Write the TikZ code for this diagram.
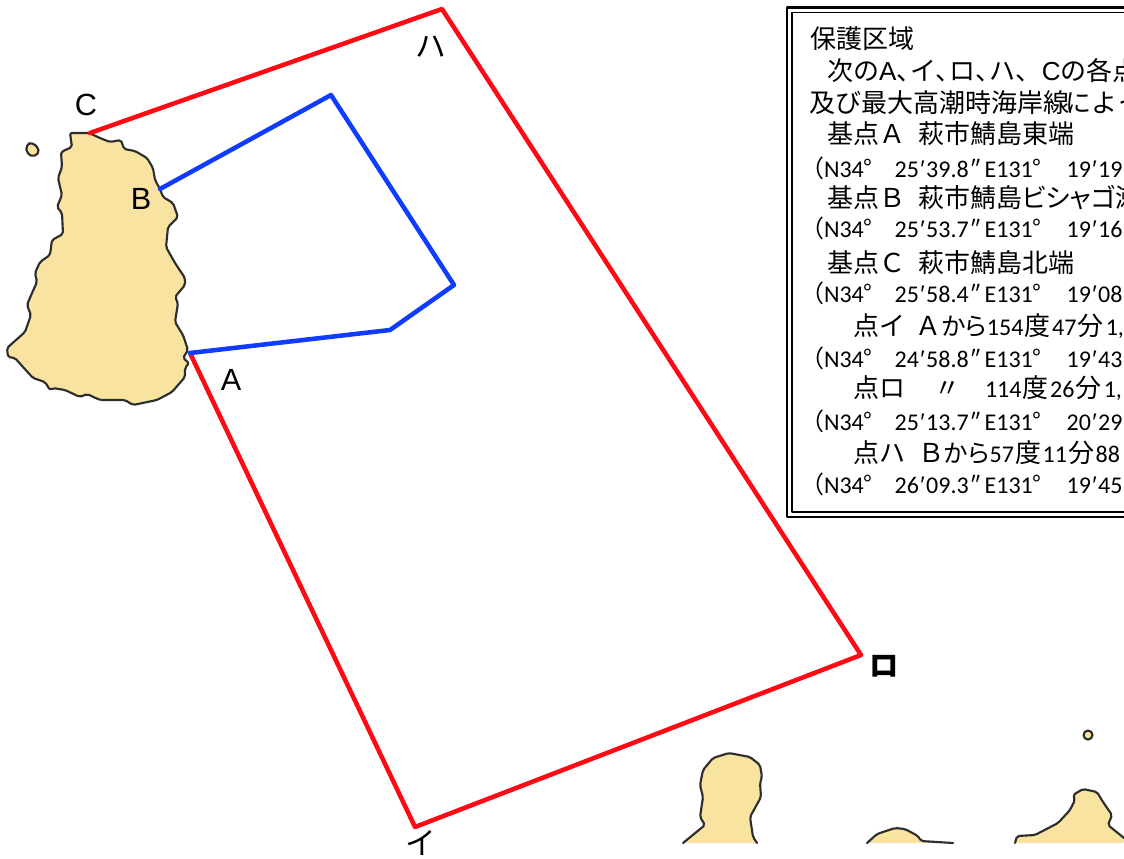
\documentclass[tikz,border=0pt]{standalone}
\usepackage{fontspec}
\setmainfont{Carlito}
\newfontfamily\jp{Noto Sans CJK JP}
\newfontfamily\jpp[RawFeature=+palt]{Noto Sans CJK JP}
\newfontfamily\arial{Liberation Sans}
\definecolor{islandfill}{RGB}{249,227,160}
\definecolor{islandline}{RGB}{45,45,45}
\definecolor{zonered}{RGB}{255,10,20}
\definecolor{zoneblue}{RGB}{15,60,255}
% digits inside the japanese rows
\newcommand{\dg}[1]{{\fontsize{18pt}{18pt}\selectfont\rmfamily #1}}
% comma closed up on the following character
\newcommand{\cm}{、\hspace{-9pt}}
\newcommand{\prm}{\hspace{1pt}{\arial ′}\hspace{1pt}}
\newcommand{\dprm}{\hspace{1.5pt}″}
% kana set a little smaller
\newcommand{\kara}{{\fontsize{18.5pt}{18.5pt}\selectfont\jpp から}}
% one coordinate row: lat degrees, lat rest, lon rest
\newcommand{\georow}[3]{\makebox[12pt][r]{\jp （}\makebox[53pt][l]{N#1{\jp °}}\makebox[67.5pt][l]{#2}\makebox[61.5pt][l]{E131{\jp °}}#3}
\tikzset{
  island/.style={fill=islandfill, draw=none, rounded corners=1.5pt},
  coast/.style={draw=islandline, line width=1.6pt, line join=round, rounded corners=1.5pt},
  zone/.style={line width=3.4pt, line join=round, line cap=round},
  txt/.style={anchor=base west, inner sep=0pt, outer sep=0pt, font=\fontsize{19.5pt}{19.5pt}\selectfont\jp},
  geo/.style={anchor=base west, inner sep=0pt, outer sep=0pt, font=\fontsize{18pt}{18pt}\selectfont},
  mapl/.style={inner sep=0pt, font=\fontsize{23pt}{23pt}\selectfont\arial},
  mapk/.style={inner sep=0pt, font=\fontsize{23pt}{23pt}\selectfont\jp}
}
\begin{document}
\begin{tikzpicture}[x=0.75pt, y=-0.75pt, line join = round, line cap = round]
\useasboundingbox (0,0) rectangle (1124,858);
\begin{scope}
\clip (0,0) rectangle (1124,858);

% base points and zone corners
\coordinate (A) at (190,353);
\coordinate (B) at (160,189);
\coordinate (C) at (90,133);
\coordinate (I) at (415,827);
\coordinate (Ro) at (861,655);
\coordinate (Ha) at (442,9);
\coordinate (P) at (331,95);
\coordinate (Q) at (454,285);
\coordinate (R) at (390,330);

% main island
\draw[island, coast] (89,133)--(100,138)--(110,142)--(121,140)--(124,149)--(135,151)--(147,158)--(153,168)--(155,180)--(160,189)--(163,197)--(173,203)--(178,217)--(168,227)--(166,247)--(175,263)--(185,278)--(185,285)--(175,297)--(178,303)--(175,322)--(183,335)--(188,350)--(183,358)--(189,363)--(185,368)--(185,377)--(172,392)--(157,400)--(133,405)--(125,400)--(100,400)--(87,394)--(80,397)--(65,390)--(53,388)--(50,390)--(45,382)--(33,378)--(23,367)--(15,358)--(8,357)--(7,348)--(25,332)--(31,315)--(27,305)--(32,293)--(37,282)--(35,273)--(40,262)--(50,255)--(52,240)--(63,234)--(62,213)--(57,207)--(62,195)--(58,178)--(62,167)--(61,152)--(72,147)--(70,133)--cycle;
\draw[island, coast, rounded corners=3pt] (26,145)--(32,142)--(40,150)--(35,157)--(27,154)--cycle;

% islands along the bottom, open at the cut
\fill[island] (683,843)--(705,825)--(700,817)--(703,797)--(700,785)--(703,770)--(713,758)--(729,753)--(750,757)--(760,765)--(762,777)--(760,783)--(761,797)--(750,817)--(753,837)--(757,843)--cycle;
\draw[coast] (683,843)--(705,825)--(700,817)--(703,797)--(700,785)--(703,770)--(713,758)--(729,753)--(750,757)--(760,765)--(762,777)--(760,783)--(761,797)--(750,817)--(753,837)--(757,843);
\fill[island] (867,843)--(877,834)--(895,828)--(905,829)--(918,836)--(921,841)--(953,843)--cycle;
\draw[coast] (867,843)--(877,834)--(895,828)--(905,829)--(918,836)--(921,841)--(953,843);
\fill[island] (1015,843)--(1017,836)--(1035,835)--(1058,823)--(1070,810)--(1075,800)--(1073,795)--(1083,789)--(1097,792)--(1103,802)--(1112,815)--(1108,825)--(1124,838)--(1124,843)--cycle;
\draw[coast] (1015,843)--(1017,836)--(1035,835)--(1058,823)--(1070,810)--(1075,800)--(1073,795)--(1083,789)--(1097,792)--(1103,802)--(1112,815)--(1108,825)--(1124,838);
\draw[island, coast] (1088,735) circle (4.5);

% zone outlines
\draw[zone, color=zonered] (C)--(Ha)--(Ro)--(I)--(A);
\draw[zone, color=zoneblue] (B)--(P)--(Q)--(R)--(A);

% map labels
\node[mapl] (labelC) at (86,105) {C};
\node[mapl] (labelB) at (141,199) {B};
\node[mapl] (labelA) at (231,380) {A};
\node[mapk] (labelHa) at (431,47) {ハ};
\node[mapk, font=\fontsize{22pt}{22pt}\selectfont\jp\bfseries] (labelRo) at (884,666) {ロ};
\node[mapk] (labelI) at (421,843) {イ};

% double frame, runs off the right side
\draw[line width=2.2pt] (787,7.5) rectangle (1140,517);
\draw[line width=1.3pt] (792,12.5) rectangle (1135,512);

% box text
\node[txt] (t1) at (810,48) {保護区域};
\node[txt] (t2) at (827,80) {次の{\arial A}\cm イ\cm ロ\cm ハ\cm\hspace{9pt}{\arial C}の各点};
\node[txt] (t3) at (809,112) {及び最大高潮時海岸線\hspace{-3pt}によっ};
\node[txt] (t4) at (827,143) {基点Ａ\hspace{10pt}萩市鯖島東端};
\node[geo] (t5) at (808,177) {\georow{34}{25\prm 39.8\dprm}{19\prm 19}};
\node[txt] (t6) at (827,207) {基点Ｂ\hspace{10pt}萩市鯖島{\jpp ビシャゴ}瀬};
\node[geo] (t7) at (808,237) {\georow{34}{25\prm 53.7\dprm}{19\prm 16}};
\node[txt] (t8) at (827,272) {基点Ｃ\hspace{10pt}萩市鯖島北端};
\node[geo] (t9) at (808,302) {\georow{34}{25\prm 58.4\dprm}{19\prm 08}};
\node[txt] (t10) at (853,335) {点イ\hspace{8pt}Ａ\kara\dg{154}\hspace{1pt}度\hspace{1pt}\dg{47}\hspace{1pt}分\hspace{1.5pt}\dg{1,}};
\node[geo] (t11) at (808,367) {\georow{34}{24\prm 58.8\dprm}{19\prm 43}};
\node[txt] (t12) at (853,397) {点ロ\hspace{22pt}〃\hspace{18.5pt}\dg{114}\hspace{1pt}度\hspace{1pt}\dg{26}\hspace{1pt}分\hspace{1.5pt}\dg{1,}};
\node[geo] (t13) at (808,430) {\georow{34}{25\prm 13.7\dprm}{20\prm 29}};
\node[txt] (t14) at (853,462) {点ハ\hspace{10pt}Ｂ\kara\dg{57}\hspace{1pt}度\hspace{1pt}\dg{11}\hspace{1pt}分\hspace{1pt}\dg{88}};
\node[geo] (t15) at (808,493) {\georow{34}{26\prm 09.3\dprm}{19\prm 45}};
\end{scope}
\end{tikzpicture}
\end{document}
